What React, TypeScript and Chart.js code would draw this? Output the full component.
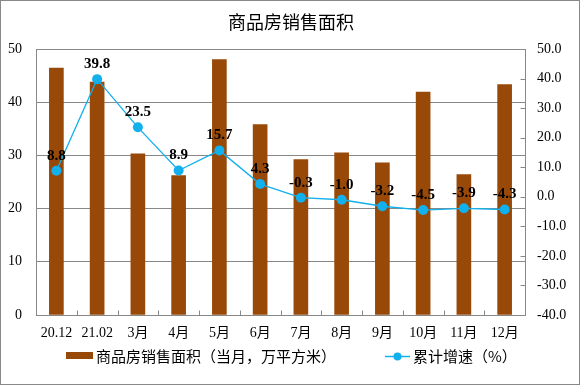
import React, { useEffect, useRef } from "react";
import { Chart, registerables } from "chart.js";

Chart.register(...registerables);

const categories = ["20.12", "21.02", "3月", "4月", "5月", "6月", "7月", "8月", "9月", "10月", "11月", "12月"];
const salesArea = [46.4, 43.8, 30.3, 26.2, 48.0, 35.8, 29.2, 30.5, 28.6, 41.9, 26.4, 43.3];
const growthRate = [8.8, 39.8, 23.5, 8.9, 15.7, 4.3, -0.3, -1.0, -3.2, -4.5, -3.9, -4.3];
const leftTicks = [0, 10, 20, 30, 40, 50];
const rightTicks = [-40, -30, -20, -10, 0, 10, 20, 30, 40, 50];

const titleText = "商品房销售面积";
const barLabel = "商品房销售面积（当月，万平方米）";
const lineLabel = "累计增速（%）";

const BAR_COLOR = "#984807";
const LINE_COLOR = "#12B0EC";
const GRID = "#888888";
const SERIF = "'Liberation Serif', 'Noto Sans CJK SC', serif";
const CJK = "'Noto Sans CJK SC', sans-serif";

const decor = {
  id: "decor",
  beforeDatasetsDraw(chart: any) {
    const { ctx, chartArea: a, scales } = chart;
    ctx.save();
    ctx.strokeStyle = GRID;
    ctx.lineWidth = 1;
    const l = Math.round(a.left) + 0.5;
    const t = Math.round(a.top) + 0.5;
    const r = Math.round(a.right) + 0.5;
    const b = Math.round(a.bottom) + 0.5;
    ctx.strokeRect(l, t, r - l, b - t);
    const xs = scales.x;
    ctx.beginPath();
    for (let i = 1; i < categories.length; i++) {
      const x = Math.round((xs.getPixelForValue(i - 1) + xs.getPixelForValue(i)) / 2) + 0.5;
      ctx.moveTo(x, b);
      ctx.lineTo(x, b - 5);
    }
    const y1 = scales.y1;
    rightTicks.forEach((v) => {
      const y = Math.round(y1.getPixelForValue(v)) + 0.5;
      ctx.moveTo(r, y);
      ctx.lineTo(r - 5, y);
    });
    ctx.stroke();
    ctx.restore();
  },
  afterDatasetsDraw(chart: any) {
    const { ctx } = chart;
    const meta = chart.getDatasetMeta(1);
    ctx.save();
    ctx.font = `bold 15px ${SERIF}`;
    ctx.fillStyle = "#000";
    ctx.textAlign = "center";
    ctx.textBaseline = "middle";
    meta.data.forEach((pt: any, i: number) => {
      ctx.fillText(growthRate[i].toFixed(1), pt.x, pt.y - 15);
    });
    ctx.restore();
  },
  afterDraw(chart: any) {
    const { ctx } = chart;
    ctx.save();
    ctx.strokeStyle = GRID;
    ctx.lineWidth = 1;
    ctx.strokeRect(0.5, 0.5, 579, 384);
    ctx.fillStyle = "#000";
    ctx.font = `18px ${CJK}`;
    ctx.textAlign = "center";
    ctx.textBaseline = "middle";
    ctx.fillText(titleText, 291, 22);
    ctx.textAlign = "left";
    ctx.font = `15px ${CJK}`;
    ctx.fillStyle = BAR_COLOR;
    ctx.fillRect(66, 352, 27, 7);
    ctx.fillStyle = "#000";
    ctx.fillText(barLabel, 96, 356);
    ctx.strokeStyle = LINE_COLOR;
    ctx.lineWidth = 1.5;
    ctx.beginPath();
    ctx.moveTo(385, 356.5);
    ctx.lineTo(410, 356.5);
    ctx.stroke();
    ctx.fillStyle = LINE_COLOR;
    ctx.beginPath();
    ctx.arc(397.5, 356.5, 4, 0, Math.PI * 2);
    ctx.fill();
    ctx.fillStyle = "#000";
    ctx.fillText(lineLabel, 413, 356);
    ctx.restore();
  },
};

export default function App() {
  const ref = useRef<HTMLCanvasElement>(null);
  useEffect(() => {
    if (!ref.current) return;
    const chart = new Chart(ref.current, {
      type: "bar",
      data: {
        labels: categories,
        datasets: [
          {
            type: "bar",
            label: barLabel,
            data: salesArea,
            backgroundColor: BAR_COLOR,
            barThickness: 14,
            yAxisID: "y",
            order: 1,
          },
          {
            type: "line",
            label: lineLabel,
            data: growthRate,
            borderColor: LINE_COLOR,
            backgroundColor: LINE_COLOR,
            borderWidth: 1.3,
            pointRadius: 5,
            pointBackgroundColor: LINE_COLOR,
            pointBorderWidth: 0,
            tension: 0,
            yAxisID: "y1",
            order: 0,
          },
        ],
      },
      options: {
        responsive: false,
        animation: false,
        devicePixelRatio: 1,
        layout: { padding: { top: 49, left: 0, right: 0, bottom: 0 } },
        plugins: {
          legend: { display: false },
          title: { display: false },
          tooltip: { enabled: false },
        },
        scales: {
          x: {
            offset: true,
            grid: { display: false, drawTicks: false },
            border: { display: false },
            ticks: {
              font: { size: 14, family: SERIF },
              color: "#000",
              padding: 10,
              maxRotation: 0,
              autoSkip: false,
            },
            afterFit: (s: any) => {
              s.height = 71;
            },
          },
          y: {
            position: "left",
            min: 0,
            max: 50,
            afterBuildTicks: (s: any) => {
              s.ticks = leftTicks.map((v) => ({ value: v }));
            },
            grid: { color: GRID, drawTicks: false, lineWidth: 1 },
            border: { display: false },
            ticks: {
              font: { size: 14, family: SERIF },
              color: "#000",
              padding: 14,
            },
            afterFit: (s: any) => {
              s.width = 36;
            },
          },
          y1: {
            position: "right",
            min: -40,
            max: 50,
            afterBuildTicks: (s: any) => {
              s.ticks = rightTicks.map((v) => ({ value: v }));
            },
            grid: { drawOnChartArea: false, drawTicks: false },
            border: { display: false },
            ticks: {
              font: { size: 14, family: SERIF },
              color: "#000",
              padding: 12,
              callback: (v: any) => Number(v).toFixed(1),
            },
            afterFit: (s: any) => {
              s.width = 56;
            },
          },
        },
      },
      plugins: [decor],
    });
    return () => chart.destroy();
  }, []);
  return (
    <div style={{ position: "absolute", left: 0, top: 0, width: 581, height: 386, background: "#fff" }}>
      <canvas ref={ref} width={581} height={386} style={{ display: "block" }} />
    </div>
  );
}
